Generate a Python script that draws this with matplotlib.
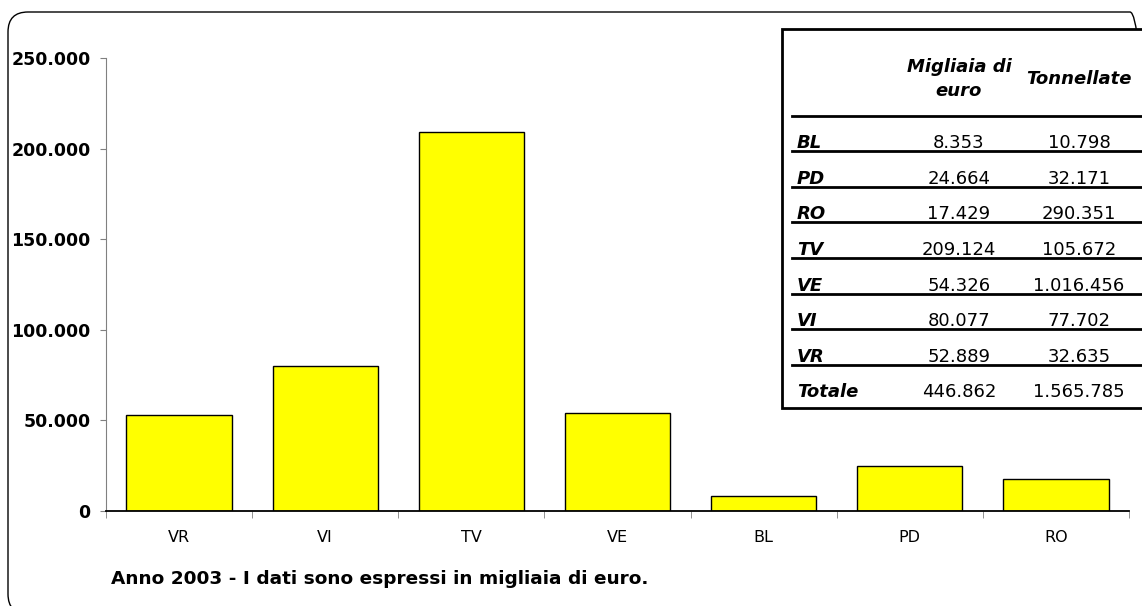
import matplotlib.pyplot as plt
from matplotlib.patches import FancyBboxPatch, Rectangle
from matplotlib.lines import Line2D
from matplotlib.transforms import IdentityTransform

# dati provinciali (migliaia di euro e tonnellate)
province = ["VR", "VI", "TV", "VE", "BL", "PD", "RO"]
migliaia_euro = [52889, 80077, 209124, 54326, 8353, 24664, 17429]

tab_righe = ["BL", "PD", "RO", "TV", "VE", "VI", "VR", "Totale"]
tab_euro = ["8.353", "24.664", "17.429", "209.124", "54.326", "80.077", "52.889", "446.862"]
tab_tonn = ["10.798", "32.171", "290.351", "105.672", "1.016.456", "77.702", "32.635", "1.565.785"]

y_ticks = [0, 50000, 100000, 150000, 200000, 250000]
y_labels = ["0", "50.000", "100.000", "150.000", "200.000", "250.000"]

W, H = 1142, 606
fig = plt.figure(figsize=(W / 100, H / 100), dpi=100)
plt.rcParams['font.family'] = ['DejaVu Sans']


def px(x, y):
    # coordinate in pixel (origine in alto a sinistra) -> frazione di figura
    return x / W, 1 - y / H


# cornice arrotondata (in pixel)
fig.add_artist(FancyBboxPatch((8, H - 614), 1150 - 8, 614 - 12,
                              boxstyle="round,pad=0,rounding_size=20",
                              transform=IdentityTransform(), fill=False,
                              edgecolor="black", linewidth=1.0))

l, b = px(106, 511)
r, t = px(1129, 58)
ax = fig.add_axes([l, b, r - l, t - b])

pos = list(range(len(province)))
ax.bar(pos, migliaia_euro, width=0.72, color="#ffff00", edgecolor="black", linewidth=1.0)

ax.set_xlim(-0.5, len(province) - 0.5)
ax.set_ylim(0, 250000)
ax.set_yticks(y_ticks)
ax.set_yticklabels(y_labels, fontsize=12.5, fontweight="bold")
ax.set_xticks(pos)
ax.set_xticklabels(province, fontsize=11.5)
ax.tick_params(axis="x", length=0, pad=14)
ax.tick_params(axis="y", length=4, color="#808080", pad=7)
# tacche tra le categorie
ax.set_xticks([p - 0.5 for p in pos] + [len(province) - 0.5], minor=True)
ax.tick_params(axis="x", which="minor", length=5, color="#808080")

for s in ["top", "right"]:
    ax.spines[s].set_visible(False)
ax.spines["left"].set_color("#808080")
ax.spines["bottom"].set_color("black")
ax.spines["bottom"].set_linewidth(1.3)

# tabella riassuntiva
bx0, by0 = px(782, 408)
bx1, by1 = px(1150, 29)
fig.add_artist(Rectangle((bx0, by0), bx1 - bx0, by1 - by0, transform=fig.transFigure,
                         facecolor="white", edgecolor="black", linewidth=2.0, zorder=5))

fs = 13
col1, col2, lab_x = 959, 1079, 797
fig.text(*px(col1, 67), "Migliaia di", ha="center", va="center", fontsize=fs,
         fontweight="bold", style="italic", zorder=6)
fig.text(*px(col1, 91), "euro", ha="center", va="center", fontsize=fs,
         fontweight="bold", style="italic", zorder=6)
fig.text(*px(col2, 79), "Tonnellate", ha="center", va="center", fontsize=fs,
         fontweight="bold", style="italic", zorder=6)

lines_y = [116, 151, 187, 222, 258, 294, 329, 365]
for yy in lines_y:
    xa, ya = px(792, yy)
    xb, _ = px(1150, yy)
    fig.add_artist(Line2D([xa, xb], [ya, ya], transform=fig.transFigure,
                          color="black", linewidth=2.0, zorder=6))

for i, nome in enumerate(tab_righe):
    base = lines_y[i + 1] - 3 if i + 1 < len(lines_y) else 397
    fig.text(*px(lab_x, base), nome, ha="left", va="baseline", fontsize=fs,
             fontweight="bold", style="italic", zorder=7)
    fig.text(*px(col1, base), tab_euro[i], ha="center", va="baseline", fontsize=fs, zorder=7)
    fig.text(*px(col2, base), tab_tonn[i], ha="center", va="baseline", fontsize=fs, zorder=7)

fig.text(*px(111, 579), "Anno 2003 - I dati sono espressi in migliaia di euro.",
         ha="left", va="center", fontsize=13.3, fontweight="bold")

fig.savefig("out.png", dpi=100)
